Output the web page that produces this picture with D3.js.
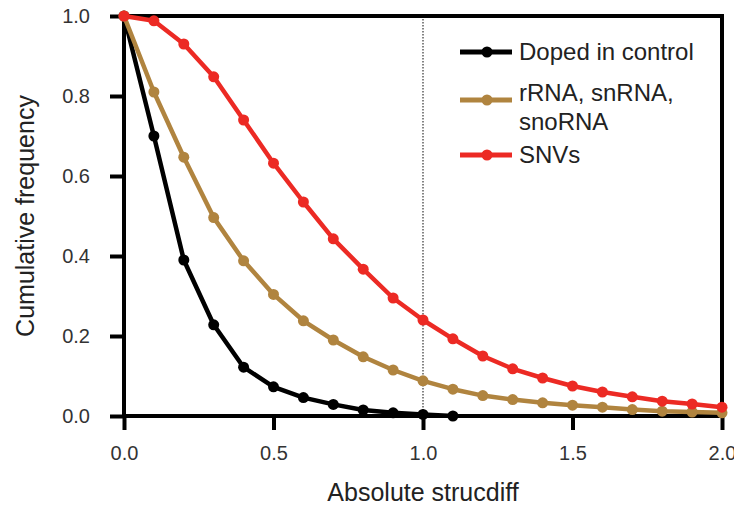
<!DOCTYPE html>
<html>
  <head>
    <meta charset="utf-8">
    <title>Cumulative frequency</title>
    <style>
      body { margin: 0; background: #fff; }
      text { font-family: "Liberation Sans", Arial, Helvetica, sans-serif; fill: #222; }
      .axis .domain { display: none; }
      .axis text { font-size: 20px; fill: #333; }
    </style>
    <script src="https://cdnjs.cloudflare.com/ajax/libs/d3/7.8.5/d3.min.js"></script>
  </head>
  <body>
    <div id="chart"></div>
    <script>
  // x positions shared by all series (absolute strucdiff)
  var xs = [0.0, 0.1, 0.2, 0.3, 0.4, 0.5, 0.6, 0.7, 0.8, 0.9, 1.0,
            1.1, 1.2, 1.3, 1.4, 1.5, 1.6, 1.7, 1.8, 1.9, 2.0];
  var doped = [1.0, 0.70, 0.39, 0.228, 0.122, 0.073, 0.046, 0.029, 0.015, 0.008, 0.004, 0.0];
  var rrna = [1.0, 0.81, 0.647, 0.496, 0.388, 0.304, 0.238, 0.19, 0.148, 0.115, 0.088,
              0.067, 0.051, 0.041, 0.033, 0.027, 0.022, 0.016, 0.012, 0.01, 0.008];
  var snvs = [1.0, 0.988, 0.93, 0.848, 0.74, 0.632, 0.535, 0.443, 0.367, 0.295, 0.24,
              0.193, 0.15, 0.118, 0.095, 0.075, 0.06, 0.048, 0.037, 0.03, 0.022];
  var seriesNames = ['Doped in control', 'rRNA, snRNA, snoRNA', 'SNVs'];
  var xTicks = [0, 0.5, 1.0, 1.5, 2.0];
  var yTicks = [0, 0.2, 0.4, 0.6, 0.8, 1.0];
  var cutoff = 1.0;

  var colors = ['#000000', '#b0843f', '#ec2a24'];
  var w = 734, h = 505;
  var margin = {top: 16, right: 12, bottom: 89, left: 124};

  var svg = d3.select('#chart').append('svg').attr('width', w).attr('height', h);
  var x = d3.scaleLinear().domain([0, 2]).range([margin.left, w - margin.right]);
  var y = d3.scaleLinear().domain([0, 1]).range([h - margin.bottom, margin.top]);

  // dotted line at cutoff
  svg.append('line')
     .attr('x1', x(cutoff)).attr('x2', x(cutoff))
     .attr('y1', y(1)).attr('y2', y(0))
     .style('stroke', '#333').style('stroke-width', 1.2)
     .style('stroke-dasharray', '1.5,1.5');

  // axes
  var yAxis = svg.append('g').attr('class', 'axis')
     .attr('transform', 'translate(' + margin.left + ',0)')
     .call(d3.axisLeft(y).tickValues(yTicks).tickFormat(d3.format('.1f'))
           .tickSize(14).tickPadding(20));
  var xAxis = svg.append('g').attr('class', 'axis')
     .attr('transform', 'translate(0,' + (h - margin.bottom) + ')')
     .call(d3.axisBottom(x).tickValues(xTicks).tickFormat(d3.format('.1f'))
           .tickSize(14).tickPadding(16));
  [yAxis, xAxis].forEach(function(a) {
    a.selectAll('.tick line').attr('stroke', '#000').attr('stroke-width', 4);
  });

  // frame
  svg.append('rect')
     .attr('x', x(0)).attr('y', y(1))
     .attr('width', x(2) - x(0)).attr('height', y(0) - y(1))
     .style('fill', 'none').style('stroke', '#000').style('stroke-width', 4);

  var line = d3.line().x(function(d) { return x(d[0]); }).y(function(d) { return y(d[1]); });
  [doped, rrna, snvs].forEach(function(vals, k) {
    var pts = vals.map(function(v, i) { return [xs[i], v]; });
    var g = svg.append('g');
    g.append('path').datum(pts).attr('d', line)
     .style('fill', 'none').style('stroke', colors[k]).style('stroke-width', 4.5)
     .style('stroke-linejoin', 'round');
    g.selectAll('circle').data(pts).enter().append('circle')
     .attr('cx', function(d) { return x(d[0]); })
     .attr('cy', function(d) { return y(d[1]); })
     .attr('r', 5.5).style('fill', colors[k]);
  });

  // legend
  var legY = [52, 100, 155];
  var legend = svg.append('g');
  seriesNames.forEach(function(name, k) {
    legend.append('line').attr('x1', 460).attr('x2', 512)
          .attr('y1', legY[k]).attr('y2', legY[k])
          .style('stroke', colors[k]).style('stroke-width', 5);
    legend.append('circle').attr('cx', 487).attr('cy', legY[k]).attr('r', 5.5)
          .style('fill', colors[k]);
  });
  legend.append('text').attr('x', 519).attr('y', legY[0] + 8).style('font-size', '24px')
        .text(seriesNames[0]);
  legend.append('text').attr('x', 519).attr('y', legY[1] + 1).style('font-size', '24px')
        .text('rRNA, snRNA,');
  legend.append('text').attr('x', 519).attr('y', legY[1] + 30).style('font-size', '24px')
        .text('snoRNA');
  legend.append('text').attr('x', 519).attr('y', legY[2] + 8).style('font-size', '24px')
        .text(seriesNames[2]);

  // axis titles
  svg.append('text').attr('x', (x(0) + x(2)) / 2).attr('y', 501)
     .attr('text-anchor', 'middle').style('font-size', '25px')
     .text('Absolute strucdiff');
  svg.append('text')
     .attr('transform', 'translate(34,' + y(0.5) + ') rotate(-90)')
     .attr('text-anchor', 'middle').style('font-size', '25px')
     .text('Cumulative frequency');
    </script>
  </body>
</html>
